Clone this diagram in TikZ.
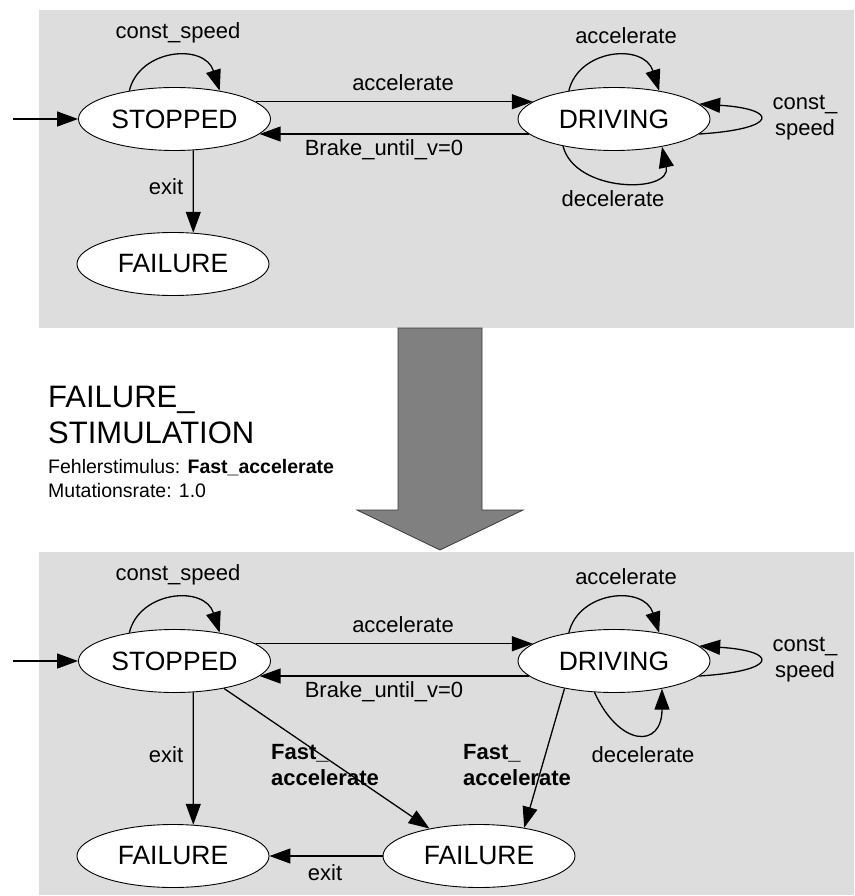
\documentclass[tikz,border=0pt]{standalone}
\usepackage{fontspec}
\setmainfont{Liberation Sans}
\usetikzlibrary{shapes.geometric,arrows.meta}
\definecolor{panelgray}{HTML}{DDDDDD}
\definecolor{arrowgray}{HTML}{808080}
\definecolor{arrowedge}{HTML}{3A3A3A}

\begin{document}
\begin{tikzpicture}[x=1pt,y=-1pt,
  stnode/.style={ellipse,draw=black,line width=0.9pt,fill=white,
    minimum width=192pt,minimum height=63pt,inner sep=0pt,
    font=\fontsize{26.5}{30}\selectfont},
  tr/.style={draw=black,line width=1.3pt,-{Triangle[length=21pt,width=15pt]}},
  lbl/.style={font=\fontsize{22}{26}\selectfont,inner sep=0pt,align=center},
  blbl/.style={font=\fontsize{22}{26}\selectfont\bfseries,inner sep=0pt,
    align=left,anchor=west}]

\useasboundingbox (0,0) rectangle (854,896);

% ---------- background panels ----------
\fill[panelgray] (39,10) rectangle (854,328);
\fill[panelgray] (39,552) rectangle (854,895);

% ---------- transformation arrow ----------
\filldraw[fill=arrowgray,draw=arrowedge,line width=0.8pt]
  (398,328) -- (482,328) -- (482,510) -- (523,510) -- (440,550)
  -- (357,510) -- (398,510) -- cycle;

\node[anchor=base west,inner sep=0pt,font=\fontsize{31}{36}\selectfont]
  (t1) at (48,407) {FAILURE\_};
\node[anchor=base west,inner sep=0pt,font=\fontsize{31}{36}\selectfont]
  (t2) at (48,443) {STIMULATION};
\node[anchor=base west,inner sep=0pt,font=\fontsize{19.5}{24}\selectfont]
  (t3) at (48,473) {Fehlerstimulus: \textbf{Fast\_accelerate}};
\node[anchor=base west,inner sep=0pt,font=\fontsize{19.5}{24}\selectfont]
  (t4) at (48,497) {Mutationsrate: 1.0};

% ---------- original machine ----------
\node[stnode] (s1) at (174.5,119) {STOPPED};
\node[stnode] (d1) at (614,119) {DRIVING};
\node[stnode] (f1) at (173,264) {FAILURE};
\coordinate (i1) at (13,119);

\draw[tr] (i1) -- (s1);
\draw[tr] (s1.148) .. controls +(10,-42) and +(-15,-48) .. (s1.32);
\draw[tr] (s1.12) -- (d1.168);
\draw[tr] (d1.190) -- (s1.-10);
\draw[tr] (s1.-59) -- (f1.57);
\draw[tr] (d1.148) .. controls +(10,-42) and +(-15,-48) .. (d1.32);
\draw[tr] (d1.208) .. controls +(12,47) and +(10,47) .. (d1.-30);
\draw[tr] (d1.-10.6) .. controls +(80,-5) and +(80,5) .. (d1.10.6);

\node[lbl] (l1) at (178,33) {const\_speed};
\node[lbl] (l2) at (403,83) {accelerate};
\node[lbl] (l3) at (384,150) {Brake\_until\_v=0};
\node[lbl] (l4) at (166,187) {exit};
\node[lbl] (l5) at (626,36) {accelerate};
\node[lbl] (l6) at (613,199) {decelerate};
\node[lbl] (l7) at (805,118) {const\_\\speed};

% ---------- mutated machine ----------
\node[stnode] (s2) at (174.5,661) {STOPPED};
\node[stnode] (d2) at (614,661) {DRIVING};
\node[stnode] (f2) at (173,856) {FAILURE};
\node[stnode] (f3) at (479,856) {FAILURE};
\coordinate (i2) at (13,661);

\draw[tr] (i2) -- (s2);
\draw[tr] (s2.148) .. controls +(10,-42) and +(-15,-48) .. (s2.32);
\draw[tr] (s2.12) -- (d2.168);
\draw[tr] (d2.190) -- (s2.-10);
\draw[tr] (s2.-59) -- (f2.57);
\draw[tr] (d2.148) .. controls +(10,-42) and +(-15,-48) .. (d2.32);
\draw[tr] (d2.238) .. controls +(25,55) and +(0,60) .. (d2.-30);
\draw[tr] (d2.-10.6) .. controls +(80,-5) and +(80,5) .. (d2.10.6);
\draw[tr] (s2.-29) -- (f3.151);
\draw[tr] (d2.209) -- (f3.32);
\draw[tr] (f3.west) -- (f2.east);

\node[lbl] (m1) at (178,575) {const\_speed};
\node[lbl] (m2) at (403,625) {accelerate};
\node[lbl] (m3) at (384,692) {Brake\_until\_v=0};
\node[lbl] (m4) at (166,755) {exit};
\node[lbl] (m5) at (626,577) {accelerate};
\node[lbl] (m6) at (643,755) {decelerate};
\node[lbl] (m7) at (805,660) {const\_\\speed};
\node[blbl] (m8) at (271,765) {Fast\_\\accelerate};
\node[blbl] (m9) at (463,765) {Fast\_\\accelerate};
\node[lbl] (m10) at (325,873) {exit};

\end{tikzpicture}
\end{document}
